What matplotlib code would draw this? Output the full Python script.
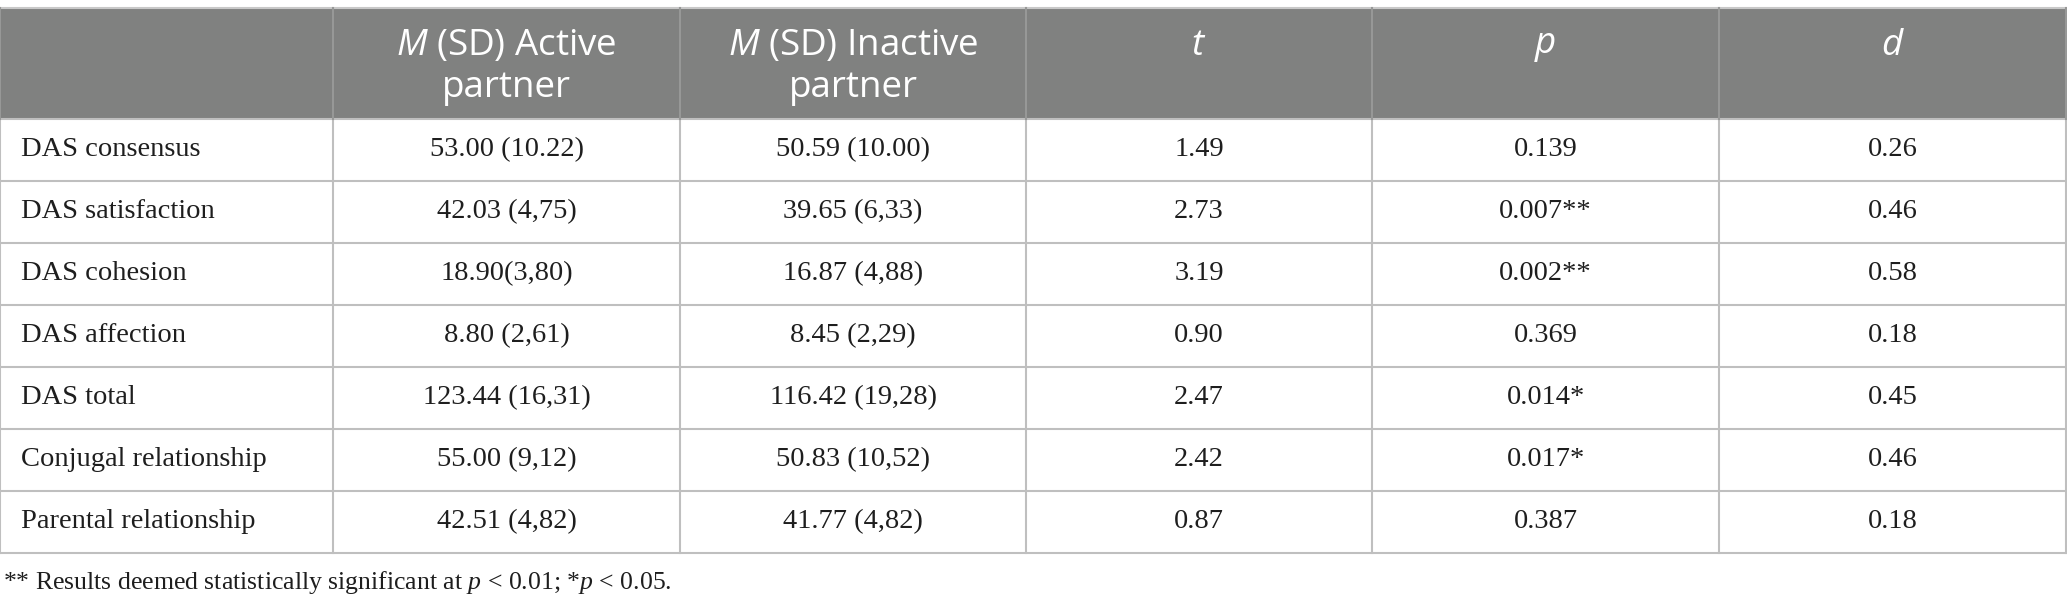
import matplotlib
matplotlib.use("Agg")
import matplotlib.pyplot as plt
from matplotlib.patches import Rectangle

plt.rcParams['mathtext.fontset'] = 'custom'
plt.rcParams['mathtext.sf'] = 'Open Sans:italic'
plt.rcParams['mathtext.it'] = 'Liberation Serif:italic'
plt.rcParams['mathtext.rm'] = 'Liberation Serif'

# table content
head_line1 = ["", r"$\mathsf{M}$ (SD) Active", r"$\mathsf{M}$ (SD) Inactive",
              r"$\mathsf{t}$", r"$\mathsf{p}$", r"$\mathsf{d}$"]
head_line2 = ["", "partner", "partner", "", "", ""]

measures = ["DAS consensus", "DAS satisfaction", "DAS cohesion", "DAS affection",
            "DAS total", "Conjugal relationship", "Parental relationship"]
active = ["53.00 (10.22)", "42.03 (4,75)", "18.90(3,80)", "8.80 (2,61)",
          "123.44 (16,31)", "55.00 (9,12)", "42.51 (4,82)"]
inactive = ["50.59 (10.00)", "39.65 (6,33)", "16.87 (4,88)", "8.45 (2,29)",
            "116.42 (19,28)", "50.83 (10,52)", "41.77 (4,82)"]
t_vals = ["1.49", "2.73", "3.19", "0.90", "2.47", "2.42", "0.87"]
p_vals = ["0.139", "0.007**", "0.002**", "0.369", "0.014*", "0.017*", "0.387"]
d_vals = ["0.26", "0.46", "0.58", "0.18", "0.45", "0.46", "0.18"]

footnote = r"** Results deemed statistically significant at $p$ < 0.01; *$p$ < 0.05."

# layout (pixels)
W, H = 2067, 610
col_edges = [0, 333, 680, 1026, 1372, 1719, 2066]
top = 8
head_bot = 119
row_h = 62
grid_col = "#bfbfbf"
head_fill = "#808180"

fig = plt.figure(figsize=(W / 100, H / 100), dpi=100)
ax = fig.add_axes([0, 0, 1, 1])
ax.set_xlim(0, W)
ax.set_ylim(H, 0)
ax.axis("off")

n = len(measures)
bottom = head_bot + n * row_h

ax.add_patch(Rectangle((0, top), W, head_bot - top, facecolor=head_fill, edgecolor="none"))

lw = 1.5
# horizontal lines
ax.plot([0, W], [top, top], color="#c8c8c8", lw=lw)
for i in range(n + 1):
    y = head_bot + i * row_h
    ax.plot([0, W], [y, y], color=grid_col, lw=lw)
# vertical lines
for x in col_edges:
    ax.plot([x, x], [head_bot, bottom], color=grid_col, lw=lw)
    ax.plot([x, x], [top, head_bot], color="#979897", lw=lw)

hfont = dict(family="Open Sans", size=26.5, color="white")
for j in range(1, 6):
    cx = (col_edges[j] + col_edges[j + 1]) / 2
    ax.text(cx, 46, head_line1[j], ha="center", va="center", **hfont)
    if head_line2[j]:
        ax.text(cx, 88, head_line2[j], ha="center", va="center", **hfont)

bfont = dict(family="Liberation Serif", size=20.5, color="#1e1e1e")
columns = [active, inactive, t_vals, p_vals, d_vals]
for i in range(n):
    cy = head_bot + (i + 0.5) * row_h
    ax.text(21, cy, measures[i], ha="left", va="center", **bfont)
    for j, col in enumerate(columns):
        cx = (col_edges[j + 1] + col_edges[j + 2]) / 2
        ax.text(cx, cy, col[i], ha="center", va="center", **bfont)

ax.text(3, 583, footnote, ha="left", va="center", family="Liberation Serif",
        size=18.5, color="#1e1e1e")

fig.savefig("out.png", dpi=100)
